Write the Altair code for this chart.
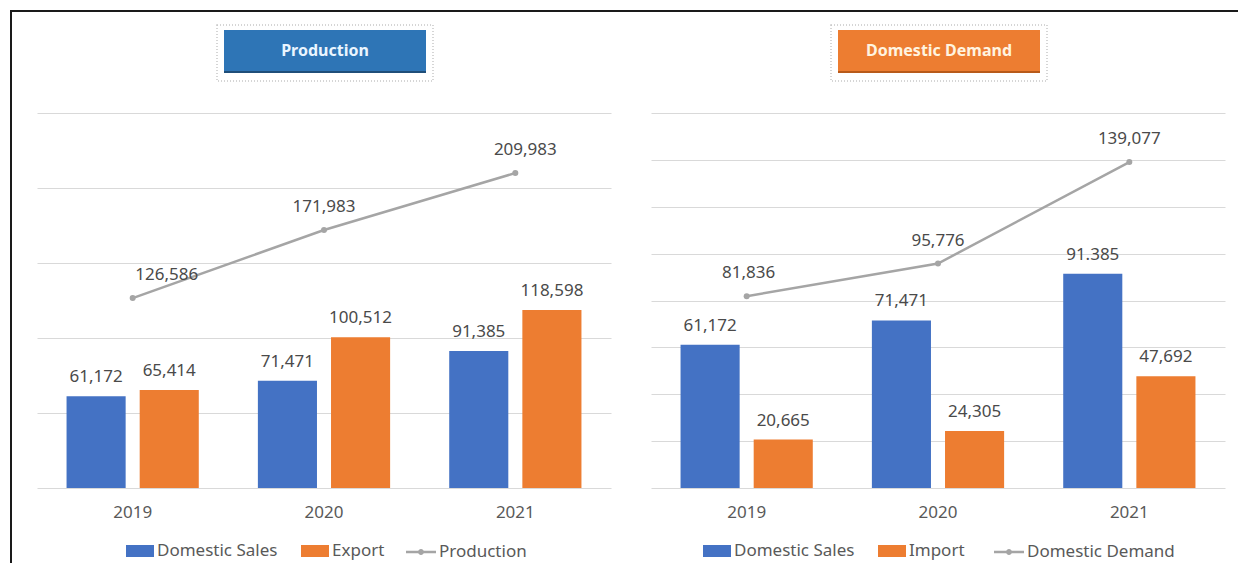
import altair as alt
import pandas as pd

FONT = "Noto Sans"

years = ["2019", "2020", "2021"]

# Production panel
prod_bar_series = ["Domestic Sales", "Export"]
prod_domestic = [61172, 71471, 91385]
prod_export = [65414, 100512, 118598]
prod_domestic_labels = ["61,172", "71,471", "91,385"]
prod_export_labels = ["65,414", "100,512", "118,598"]
prod_line_name = "Production"
production = [126586, 171983, 209983]
production_labels = ["126,586", "171,983", "209,983"]

# Domestic demand panel
dem_bar_series = ["Domestic Sales", "Import"]
dem_domestic = [61172, 71471, 91385]
dem_import = [20665, 24305, 47692]
dem_domestic_labels = ["61,172", "71,471", "91.385"]
dem_import_labels = ["20,665", "24,305", "47,692"]
dem_line_name = "Domestic Demand"
demand = [81836, 95776, 139077]
demand_labels = ["81,836", "95,776", "139,077"]

BAR_COLORS = ["#4472C4", "#ED7D31"]
LINE_COLOR = "#A5A5A5"

RECT_SYM = "M-1,-0.43H1V0.43H-1Z"
LINE_SYM = ("M-1,-0.08H1V0.08H-1Z"
            "M-0.2,0A0.2,0.2 0 1,1 0.2,0A0.2,0.2 0 1,1 -0.2,0Z")

W, H = 574, 375
TXT = "#4A4A4A"
LBL = "#595959"
FS = 17


def panel(title, box_color, box_dark, title_color, bar_series, s1, s2, l1, l2,
          line_name, line_vals, line_labels, ymax, ystep,
          leg1_x, leg2_x, label_dx, left_border, rule_x2):
    bars_df = pd.DataFrame({
        "year": years * 2,
        "series": [bar_series[0]] * 3 + [bar_series[1]] * 3,
        "value": list(s1) + list(s2),
        "label": list(l1) + list(l2),
    })
    line_df = pd.DataFrame({
        "year": years,
        "series": [line_name] * 3,
        "value": line_vals,
        "label": line_labels,
    })

    x = alt.X("year:N", sort=years,
              scale=alt.Scale(paddingInner=0, paddingOuter=0),
              axis=alt.Axis(title=None, labelAngle=0, domain=False, ticks=False,
                            labelPadding=16, labelFontSize=FS, labelColor=LBL,
                            labelFont=FONT))
    y = alt.Y("value:Q", scale=alt.Scale(domain=[0, ymax], nice=False),
              axis=alt.Axis(title=None, labels=False, ticks=False, domain=False,
                            grid=True, gridColor="#D9D9D9", gridWidth=1,
                            values=list(range(0, ymax + 1, ystep))))
    xo = alt.XOffset("series:N", sort=bar_series,
                     scale=alt.Scale(domain=bar_series, paddingInner=0.192,
                                     paddingOuter=0.404))

    bars = alt.Chart(bars_df).mark_bar().encode(
        x=x, xOffset=xo, y=y,
        color=alt.Color("series:N", sort=bar_series,
                        scale=alt.Scale(domain=bar_series, range=BAR_COLORS),
                        legend=alt.Legend(title=None, orient="none",
                                          legendX=leg1_x, legendY=424,
                                          direction="horizontal",
                                          symbolType=RECT_SYM, symbolSize=784,
                                          symbolStrokeWidth=0,
                                          labelFontSize=FS, labelColor=LBL,
                                          labelFont=FONT, labelOffset=3,
                                          columnPadding=23)),
    )
    bar_text = alt.Chart(bars_df).mark_text(
        dy=-14, baseline="alphabetic", fontSize=FS, color=TXT, font=FONT
    ).encode(x=alt.X("year:N", sort=years), xOffset=xo,
             y=alt.Y("value:Q"), text="label:N")

    line = alt.Chart(line_df).mark_line(color=LINE_COLOR, strokeWidth=2.5).encode(
        x=alt.X("year:N", sort=years), y=alt.Y("value:Q"))
    pts = alt.Chart(line_df).mark_circle(size=36, opacity=1).encode(
        x=alt.X("year:N", sort=years), y=alt.Y("value:Q"),
        fill=alt.Fill("series:N", scale=alt.Scale(domain=[line_name], range=[LINE_COLOR]),
                      legend=alt.Legend(title=None, orient="none",
                                        legendX=leg2_x, legendY=424,
                                        direction="horizontal",
                                        symbolType=LINE_SYM, symbolSize=900,
                                        symbolStrokeWidth=0,
                                        labelFontSize=FS, labelColor=LBL,
                                        labelFont=FONT, labelOffset=3)))
    line_texts = []
    for yr, dx in zip(years, label_dx):
        line_texts.append(
            alt.Chart(line_df).transform_filter(alt.datum.year == yr)
            .mark_text(dy=-23, dx=dx, baseline="middle", fontSize=FS,
                       color=TXT, font=FONT)
            .encode(x=alt.X("year:N", sort=years), y=alt.Y("value:Q"),
                    text="label:N"))

    one = pd.DataFrame({"t": [title]})
    dotted = alt.Chart(one).mark_rect(fillOpacity=0, stroke="#C8C8C8",
                                      strokeWidth=1.5, strokeDash=[1, 2]).encode(
        x=alt.value(180), x2=alt.value(396), y=alt.value(-88), y2=alt.value(-32))
    box_shadow = alt.Chart(one).mark_rect(color=box_dark).encode(
        x=alt.value(187), x2=alt.value(389), y=alt.value(-83), y2=alt.value(-40))
    box = alt.Chart(one).mark_rect(color=box_color).encode(
        x=alt.value(187), x2=alt.value(389), y=alt.value(-83), y2=alt.value(-42))
    box_text = alt.Chart(one).mark_text(fontSize=16, fontWeight="bold",
                                        color=title_color, font=FONT,
                                        baseline="middle").encode(
        x=alt.value(288), y=alt.value(-62), text="t:N")

    layers = [dotted, box_shadow, box, box_text]
    if left_border:
        layers.append(alt.Chart(one).mark_rule(color="#1A1A1A", strokeWidth=2).encode(
            x=alt.value(-26), y=alt.value(-102), y2=alt.value(450)))
        layers.append(alt.Chart(one).mark_rule(color="#1A1A1A", strokeWidth=2,
                                               strokeCap="square").encode(
            x=alt.value(-26), x2=alt.value(rule_x2), y=alt.value(-102)))
    else:
        layers.append(alt.Chart(one).mark_rule(color="#1A1A1A", strokeWidth=2,
                                               strokeCap="square").encode(
            x=alt.value(0), x2=alt.value(rule_x2), y=alt.value(-102)))

    return alt.layer(bars, bar_text, line, pts, *line_texts,
                     *layers).resolve_scale(color="independent", fill="independent"
    ).properties(width=W, height=H)


left = panel("Production", "#2E75B6", "#1F4E79", "#EAF5FF", prod_bar_series,
             prod_domestic, prod_export, prod_domestic_labels, prod_export_labels,
             prod_line_name, production, production_labels, 250000, 50000,
             89, 369, [34, 0, 10], True, 612)
right = panel("Domestic Demand", "#ED7D31", "#B85A1A", "#FFF4E0", dem_bar_series,
              dem_domestic, dem_import, dem_domestic_labels, dem_import_labels,
              dem_line_name, demand, demand_labels, 160000, 20000,
              52, 343, [2, 0, 0], False, 586)

chart = alt.hconcat(left, right, spacing=-2).resolve_scale(
    color="independent", fill="independent", xOffset="independent",
    x="independent", y="independent"
).configure(
    padding={"left": 1, "top": 1, "right": 0, "bottom": 0},
    background="white",
).configure_view(stroke=None)

chart.save("out.html", embed_options={"renderer": "svg", "actions": False})
